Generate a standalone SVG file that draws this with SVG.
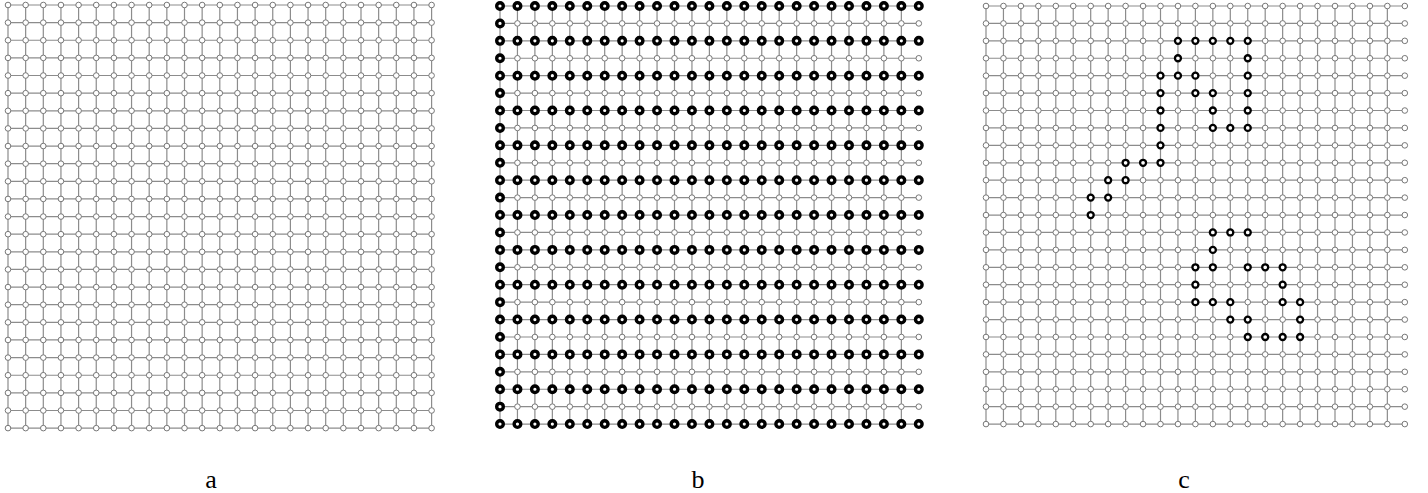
<svg xmlns="http://www.w3.org/2000/svg" xmlns:xlink="http://www.w3.org/1999/xlink" width="1428" height="493" viewBox="0 0 1428 493">
<style>
.edge{fill:none;stroke:#8c8c8c;stroke-width:1.2}
.row{fill:none;stroke:#8c8c8c;stroke-width:1.2;marker-start:url(#mn);marker-mid:url(#mn);marker-end:url(#mn)}
.rowb{fill:none;stroke:#8c8c8c;stroke-width:1.2;marker-start:url(#mb);marker-mid:url(#mb);marker-end:url(#mb)}
.nb{fill:#fff;stroke:#000;stroke-width:3.4}
.nc{fill:#fff;stroke:#000;stroke-width:2.3}
.lbl{font-family:"Liberation Serif","DejaVu Serif",serif;font-size:26px;fill:#000;text-anchor:middle}
</style>
<defs>
<marker id="mn" markerWidth="10" markerHeight="10" refX="5" refY="5" markerUnits="userSpaceOnUse" overflow="visible"><circle cx="5" cy="5" r="2.8" fill="#fff" stroke="#777" stroke-width="1"/></marker>
<marker id="mb" markerWidth="12" markerHeight="12" refX="6" refY="6" markerUnits="userSpaceOnUse" overflow="visible"><circle cx="6" cy="6" r="3.3" fill="#fff" stroke="#000" stroke-width="3.4"/></marker>
<path id="colsA" class="edge" d="M0 5V428.12m17.65-423.12v423.12m17.65-423.12v423.12m17.65-423.12v423.12m17.65-423.12v423.12m17.65-423.12v423.12m17.65-423.12v423.12m17.65-423.12v423.12m17.65-423.12v423.12m17.65-423.12v423.12m17.65-423.12v423.12m17.65-423.12v423.12m17.65-423.12v423.12m17.65-423.12v423.12m17.65-423.12v423.12m17.65-423.12v423.12m17.65-423.12v423.12m17.65-423.12v423.12m17.65-423.12v423.12m17.65-423.12v423.12m17.65-423.12v423.12m17.65-423.12v423.12m17.65-423.12v423.12m17.65-423.12v423.12m17.65-423.12v423.12"/>
<path id="colsBC" class="edge" d="M0 6V424.08m17.45-418.08v418.08m17.45-418.08v418.08m17.45-418.08v418.08m17.45-418.08v418.08m17.45-418.08v418.08m17.45-418.08v418.08m17.45-418.08v418.08m17.45-418.08v418.08m17.45-418.08v418.08m17.45-418.08v418.08m17.45-418.08v418.08m17.45-418.08v418.08m17.45-418.08v418.08m17.45-418.08v418.08m17.45-418.08v418.08m17.45-418.08v418.08m17.45-418.08v418.08m17.45-418.08v418.08m17.45-418.08v418.08m17.45-418.08v418.08m17.45-418.08v418.08m17.45-418.08v418.08m17.45-418.08v418.08"/>
<path id="rowA" class="row" d="M0 0h17.65h17.65h17.65h17.65h17.65h17.65h17.65h17.65h17.65h17.65h17.65h17.65h17.65h17.65h17.65h17.65h17.65h17.65h17.65h17.65h17.65h17.65h17.65h17.65"/>
<path id="rowBC" class="row" d="M0 0h17.45h17.45h17.45h17.45h17.45h17.45h17.45h17.45h17.45h17.45h17.45h17.45h17.45h17.45h17.45h17.45h17.45h17.45h17.45h17.45h17.45h17.45h17.45h17.45"/>
<path id="rowBold" class="rowb" d="M0 0h17.45h17.45h17.45h17.45h17.45h17.45h17.45h17.45h17.45h17.45h17.45h17.45h17.45h17.45h17.45h17.45h17.45h17.45h17.45h17.45h17.45h17.45h17.45h17.45"/>
</defs>
<rect width="1428" height="493" fill="#fff"/>

<g id="grid-a">
<g id="grid-a-connectors"><use xlink:href="#colsA" href="#colsA" x="8" y="0"/></g>
<g id="grid-a-nodes">
<use href="#rowA" x="8" y="5"/><use href="#rowA" x="8" y="22.63"/><use href="#rowA" x="8" y="40.26"/><use href="#rowA" x="8" y="57.89"/><use href="#rowA" x="8" y="75.52"/>
<use href="#rowA" x="8" y="93.15"/><use href="#rowA" x="8" y="110.78"/><use href="#rowA" x="8" y="128.41"/><use href="#rowA" x="8" y="146.04"/><use href="#rowA" x="8" y="163.67"/>
<use href="#rowA" x="8" y="181.3"/><use href="#rowA" x="8" y="198.93"/><use href="#rowA" x="8" y="216.56"/><use href="#rowA" x="8" y="234.19"/><use href="#rowA" x="8" y="251.82"/>
<use href="#rowA" x="8" y="269.45"/><use href="#rowA" x="8" y="287.08"/><use href="#rowA" x="8" y="304.71"/><use href="#rowA" x="8" y="322.34"/><use href="#rowA" x="8" y="339.97"/>
<use href="#rowA" x="8" y="357.6"/><use href="#rowA" x="8" y="375.23"/><use href="#rowA" x="8" y="392.86"/><use href="#rowA" x="8" y="410.49"/><use href="#rowA" x="8" y="428.12"/>
</g>
</g>

<g id="grid-b">
<g id="grid-b-connectors"><use href="#colsBC" x="500" y="0"/></g>
<g id="grid-b-nodes">
<use href="#rowBold" x="500" y="6"/><use href="#rowBC" x="500" y="23.42"/><use href="#rowBold" x="500" y="40.84"/><use href="#rowBC" x="500" y="58.26"/><use href="#rowBold" x="500" y="75.68"/>
<use href="#rowBC" x="500" y="93.1"/><use href="#rowBold" x="500" y="110.52"/><use href="#rowBC" x="500" y="127.94"/><use href="#rowBold" x="500" y="145.36"/><use href="#rowBC" x="500" y="162.78"/>
<use href="#rowBold" x="500" y="180.2"/><use href="#rowBC" x="500" y="197.62"/><use href="#rowBold" x="500" y="215.04"/><use href="#rowBC" x="500" y="232.46"/><use href="#rowBold" x="500" y="249.88"/>
<use href="#rowBC" x="500" y="267.3"/><use href="#rowBold" x="500" y="284.72"/><use href="#rowBC" x="500" y="302.14"/><use href="#rowBold" x="500" y="319.56"/><use href="#rowBC" x="500" y="336.98"/>
<use href="#rowBold" x="500" y="354.4"/><use href="#rowBC" x="500" y="371.82"/><use href="#rowBold" x="500" y="389.24"/><use href="#rowBC" x="500" y="406.66"/><use href="#rowBold" x="500" y="424.08"/>
</g>
<g id="grid-b-path">
<circle class="nb" cx="500" cy="23.42" r="3.3"/><circle class="nb" cx="500" cy="58.26" r="3.3"/><circle class="nb" cx="500" cy="93.1" r="3.3"/><circle class="nb" cx="500" cy="127.94" r="3.3"/>
<circle class="nb" cx="500" cy="162.78" r="3.3"/><circle class="nb" cx="500" cy="197.62" r="3.3"/><circle class="nb" cx="500" cy="232.46" r="3.3"/><circle class="nb" cx="500" cy="267.3" r="3.3"/>
<circle class="nb" cx="500" cy="302.14" r="3.3"/><circle class="nb" cx="500" cy="336.98" r="3.3"/><circle class="nb" cx="500" cy="371.82" r="3.3"/><circle class="nb" cx="500" cy="406.66" r="3.3"/>
</g>
</g>

<g id="grid-c">
<g id="grid-c-connectors"><use href="#colsBC" x="986" y="0"/></g>
<g id="grid-c-nodes">
<use href="#rowBC" x="986" y="6"/><use href="#rowBC" x="986" y="23.42"/><use href="#rowBC" x="986" y="40.84"/><use href="#rowBC" x="986" y="58.26"/><use href="#rowBC" x="986" y="75.68"/>
<use href="#rowBC" x="986" y="93.1"/><use href="#rowBC" x="986" y="110.52"/><use href="#rowBC" x="986" y="127.94"/><use href="#rowBC" x="986" y="145.36"/><use href="#rowBC" x="986" y="162.78"/>
<use href="#rowBC" x="986" y="180.2"/><use href="#rowBC" x="986" y="197.62"/><use href="#rowBC" x="986" y="215.04"/><use href="#rowBC" x="986" y="232.46"/><use href="#rowBC" x="986" y="249.88"/>
<use href="#rowBC" x="986" y="267.3"/><use href="#rowBC" x="986" y="284.72"/><use href="#rowBC" x="986" y="302.14"/><use href="#rowBC" x="986" y="319.56"/><use href="#rowBC" x="986" y="336.98"/>
<use href="#rowBC" x="986" y="354.4"/><use href="#rowBC" x="986" y="371.82"/><use href="#rowBC" x="986" y="389.24"/><use href="#rowBC" x="986" y="406.66"/><use href="#rowBC" x="986" y="424.08"/>
</g>
<g id="grid-c-path1">
<circle class="nc" cx="1177.95" cy="40.84" r="3"/><circle class="nc" cx="1195.4" cy="40.84" r="3"/><circle class="nc" cx="1212.85" cy="40.84" r="3"/><circle class="nc" cx="1230.3" cy="40.84" r="3"/><circle class="nc" cx="1247.75" cy="40.84" r="3"/>
<circle class="nc" cx="1177.95" cy="58.26" r="3"/><circle class="nc" cx="1247.75" cy="58.26" r="3"/>
<circle class="nc" cx="1160.5" cy="75.68" r="3"/><circle class="nc" cx="1177.95" cy="75.68" r="3"/><circle class="nc" cx="1195.4" cy="75.68" r="3"/><circle class="nc" cx="1247.75" cy="75.68" r="3"/>
<circle class="nc" cx="1160.5" cy="93.1" r="3"/><circle class="nc" cx="1195.4" cy="93.1" r="3"/><circle class="nc" cx="1212.85" cy="93.1" r="3"/><circle class="nc" cx="1247.75" cy="93.1" r="3"/>
<circle class="nc" cx="1160.5" cy="110.52" r="3"/><circle class="nc" cx="1212.85" cy="110.52" r="3"/><circle class="nc" cx="1247.75" cy="110.52" r="3"/>
<circle class="nc" cx="1160.5" cy="127.94" r="3"/><circle class="nc" cx="1212.85" cy="127.94" r="3"/><circle class="nc" cx="1230.3" cy="127.94" r="3"/><circle class="nc" cx="1247.75" cy="127.94" r="3"/>
<circle class="nc" cx="1160.5" cy="145.36" r="3"/>
<circle class="nc" cx="1125.6" cy="162.78" r="3"/><circle class="nc" cx="1143.05" cy="162.78" r="3"/><circle class="nc" cx="1160.5" cy="162.78" r="3"/>
<circle class="nc" cx="1108.15" cy="180.2" r="3"/><circle class="nc" cx="1125.6" cy="180.2" r="3"/>
<circle class="nc" cx="1090.7" cy="197.62" r="3"/><circle class="nc" cx="1108.15" cy="197.62" r="3"/>
<circle class="nc" cx="1090.7" cy="215.04" r="3"/>
</g>
<g id="grid-c-path2">
<circle class="nc" cx="1212.85" cy="232.46" r="3"/><circle class="nc" cx="1230.3" cy="232.46" r="3"/><circle class="nc" cx="1247.75" cy="232.46" r="3"/>
<circle class="nc" cx="1212.85" cy="249.88" r="3"/>
<circle class="nc" cx="1195.4" cy="267.3" r="3"/><circle class="nc" cx="1212.85" cy="267.3" r="3"/><circle class="nc" cx="1247.75" cy="267.3" r="3"/><circle class="nc" cx="1265.2" cy="267.3" r="3"/><circle class="nc" cx="1282.65" cy="267.3" r="3"/>
<circle class="nc" cx="1195.4" cy="284.72" r="3"/><circle class="nc" cx="1282.65" cy="284.72" r="3"/>
<circle class="nc" cx="1195.4" cy="302.14" r="3"/><circle class="nc" cx="1212.85" cy="302.14" r="3"/><circle class="nc" cx="1230.3" cy="302.14" r="3"/><circle class="nc" cx="1282.65" cy="302.14" r="3"/><circle class="nc" cx="1300.1" cy="302.14" r="3"/>
<circle class="nc" cx="1230.3" cy="319.56" r="3"/><circle class="nc" cx="1247.75" cy="319.56" r="3"/><circle class="nc" cx="1300.1" cy="319.56" r="3"/>
<circle class="nc" cx="1247.75" cy="336.98" r="3"/><circle class="nc" cx="1265.2" cy="336.98" r="3"/><circle class="nc" cx="1282.65" cy="336.98" r="3"/><circle class="nc" cx="1300.1" cy="336.98" r="3"/>
</g>
</g>

<g id="labels">
<text class="lbl" x="211" y="488">a</text>
<text class="lbl" x="698" y="488">b</text>
<text class="lbl" x="1184" y="488">c</text>
</g>
</svg>
